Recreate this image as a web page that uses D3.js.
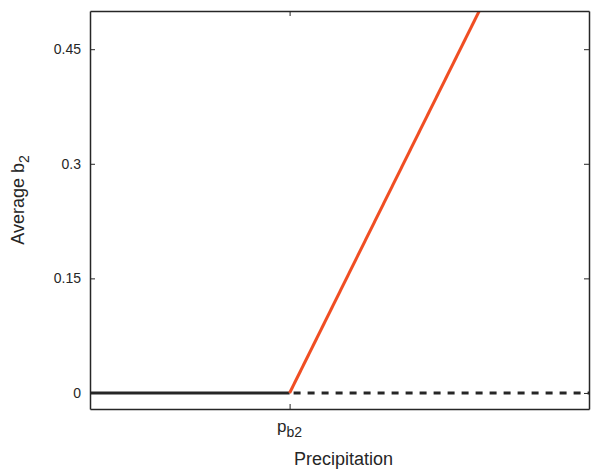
<!DOCTYPE html>
<meta charset="utf-8">
<style>
body { margin: 0; background: #fff; }
text { font-family: "Liberation Sans", Arial, sans-serif; fill: #262626; }
.tick text { font-size: 14px; }
</style>
<svg width="592" height="469"></svg>
<script src="https://d3js.org/d3.v7.min.js"></script>
<script>

// data (x in arbitrary precipitation units, pb2 = 0.4)
var yTicks = [0, 0.15, 0.3, 0.45];
var yTickLabels = ["0", "0.15", "0.3", "0.45"];
var pb2 = 0.4;
var stableZero = [[0, 0], [0.4, 0]];        // solid black
var unstableZero = [[0.4, 0], [1, 0]];      // dashed black
var orangeBranch = [[0.4, 0], [0.78, 0.5]]; // orange

var svg = d3.select("svg"),
    margin = {top: 11, right: 3, bottom: 60, left: 90},
    width = +svg.attr("width") - margin.left - margin.right,
    height = +svg.attr("height") - margin.top - margin.bottom,
    g = svg.append("g").attr("transform", "translate(" + margin.left + "," + margin.top + ")");

var x = d3.scaleLinear().domain([0, 1]).range([0, width]);
var y = d3.scaleLinear().domain([-0.021, 0.5]).range([height, 0]);

g.append("clipPath").attr("id", "clip")
  .append("rect").attr("width", width).attr("height", height);

var line = d3.line().x(function(d) { return x(d[0]); }).y(function(d) { return y(d[1]); });

var plot = g.append("g").attr("clip-path", "url(#clip)");

plot.append("path").datum(stableZero)
    .attr("d", line).attr("fill", "none")
    .attr("stroke", "#262626").attr("stroke-width", 3);

plot.append("path").datum(unstableZero)
    .attr("d", line).attr("fill", "none")
    .attr("stroke", "#262626").attr("stroke-width", 3)
    .attr("stroke-dasharray", "7,7").attr("stroke-dashoffset", -4);

plot.append("path").datum(orangeBranch)
    .attr("d", line).attr("fill", "none")
    .attr("stroke", "#f04e23").attr("stroke-width", 3);

// axes (box with mirrored ticks pointing inward)
var yAxis = d3.axisLeft(y).tickValues(yTicks)
    .tickFormat(function(d, i) { return yTickLabels[i]; })
    .tickSizeInner(-5).tickSizeOuter(0).tickPadding(9);
var yAxisR = d3.axisRight(y).tickValues(yTicks).tickFormat("")
    .tickSizeInner(-5).tickSizeOuter(0);
var xAxis = d3.axisBottom(x).tickValues([pb2]).tickFormat("")
    .tickSizeInner(-5).tickSizeOuter(0);
var xAxisT = d3.axisTop(x).tickValues([pb2]).tickFormat("")
    .tickSizeInner(-5).tickSizeOuter(0);

function style(sel) {
  sel.select(".domain").attr("stroke", "#262626").attr("stroke-width", 1.5);
  sel.selectAll(".tick line").attr("stroke", "#262626").attr("stroke-width", 1);
  sel.selectAll(".tick text").attr("fill", "#262626");
}

g.append("g").call(yAxis).call(style);
g.append("g").attr("transform", "translate(" + width + ",0)").call(yAxisR).call(style);
g.append("g").attr("transform", "translate(0," + height + ")").call(xAxis).call(style);
g.append("g").call(xAxisT).call(style);

// pb2 tick label with subscript
var pl = g.append("text")
    .attr("x", x(pb2)).attr("y", height + 23)
    .attr("text-anchor", "middle").style("font-size", "17px");
pl.append("tspan").text("p");
pl.append("tspan").attr("dy", 5).style("font-size", "14px").text("b2");

// axis titles
g.append("text")
    .attr("x", width / 2 + 4).attr("y", height + 56)
    .attr("text-anchor", "middle").style("font-size", "18px")
    .text("Precipitation");

var yl = g.append("text")
    .attr("transform", "translate(-66," + (height / 2 - 10) + ") rotate(-90)")
    .attr("text-anchor", "middle").style("font-size", "18px");
yl.append("tspan").text("Average b");
yl.append("tspan").attr("dy", 5).style("font-size", "14px").text("2");

</script>
